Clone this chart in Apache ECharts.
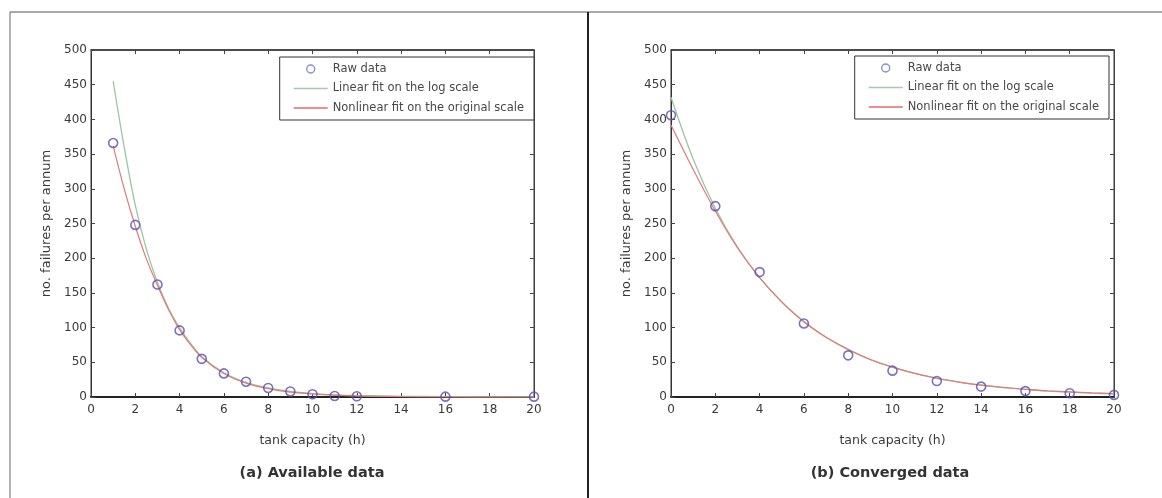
<!DOCTYPE html>
<html>
<head>
<meta charset="utf-8">
<script src="https://cdn.jsdelivr.net/npm/echarts@6/dist/echarts.min.js"></script>
<style>
  html, body { margin: 0; padding: 0; background: #fff; }
  #chart { width: 1162px; height: 498px; }
</style>
</head>
<body>
<div id="chart"></div>
<script>
// ---- Data ----
const seriesNames = ['Raw data', 'Linear fit on the log scale', 'Nonlinear fit on the original scale'];
const xAxisTitle = 'tank capacity (h)';
const yAxisTitle = 'no. failures per annum';
const captions = ['(a) Available data', '(b) Converged data'];

// (a) Available data
const aRawX = [1, 2, 3, 4, 5, 6, 7, 8, 9, 10, 11, 12, 16, 20];
const aRawY = [366, 248, 162, 96, 55, 34, 22, 13, 8, 4, 1.5, 1, 0.5, 0.5];
const aFitX = [1, 1.5, 2, 2.5, 3, 3.5, 4, 4.5, 5, 6, 7, 8, 9, 10, 11, 12, 14, 16, 18, 20];
const aLinFitY = [455, 360, 276, 213, 165, 128, 100, 77, 58, 35, 21, 13, 8, 5, 3, 2, 1, 0.5, 0.3, 0.2];
const aNonFitY = [362, 300, 246, 199, 161, 126, 97, 75, 57, 34, 20, 12, 7, 4.5, 2.7, 1.6, 0.6, 0.2, 0.1, 0];

// (b) Converged data
const bRawX = [0, 2, 4, 6, 8, 10, 12, 14, 16, 18, 20];
const bRawY = [406, 275, 180, 106, 60, 38, 23, 15, 8.5, 5.5, 3];
const bFitX = [0, 1, 2, 3, 4, 5, 6, 7, 8, 9, 10, 11, 12, 13, 14, 15, 16, 17, 18, 19, 20];
const bLinFitY = [432, 343, 272, 216, 172, 137, 109, 86, 69, 54, 43, 34, 27, 21.5, 17, 13.5, 11, 8.5, 7, 5.5, 4.4];
const bNonFitY = [392, 328, 268, 215, 172, 137, 108, 86, 68, 54, 43, 34, 27, 21.5, 17, 14, 11, 9, 7.5, 6, 5];

const xMin = 0, xMax = 20, xStep = 2;
const yMin = 0, yMax = 500, yStep = 50;

// ---- Styling ----
const FONT = '"DejaVu Sans", "Liberation Sans", sans-serif';
const TXT = '#3a3a3a';
const rawColor = '#5a4fb0';
const linColor = '#9cc4a4';
const nonColor = '#de7b7b';

const grids = [
  { left: 91, top: 50, width: 443, height: 347 },
  { left: 671, top: 50, width: 443, height: 347 }
];

function pairs(xs, ys) { return xs.map((x, i) => [x, ys[i]]); }

const xAxes = [], yAxes = [];
grids.forEach((g, gi) => {
  xAxes.push({
    gridIndex: gi, type: 'value', min: xMin, max: xMax, interval: xStep,
    position: 'bottom',
    name: xAxisTitle, nameLocation: 'middle', nameGap: 37,
    nameTextStyle: { fontFamily: FONT, fontSize: 12.5, color: TXT },
    axisLine: { show: true, onZero: false, lineStyle: { color: '#222', width: 2 } },
    axisTick: { show: true, inside: true, length: 4, lineStyle: { color: '#444' } },
    axisLabel: { fontFamily: FONT, fontSize: 12, color: TXT, margin: 7 },
    splitLine: { show: false }
  });
  xAxes.push({
    gridIndex: gi, type: 'value', min: xMin, max: xMax, interval: xStep,
    position: 'top',
    axisLine: { show: true, onZero: false, lineStyle: { color: '#333', width: 1.5 } },
    axisTick: { show: true, inside: true, length: 4, lineStyle: { color: '#444' } },
    axisLabel: { show: false },
    splitLine: { show: false }
  });
  yAxes.push({
    gridIndex: gi, type: 'value', min: yMin, max: yMax, interval: yStep,
    position: 'left',
    name: yAxisTitle, nameLocation: 'middle', nameGap: 38, nameRotate: 90,
    nameTextStyle: { fontFamily: FONT, fontSize: 13, color: TXT },
    axisLine: { show: true, onZero: false, lineStyle: { color: '#333', width: 1 } },
    axisTick: { show: true, inside: true, length: 4, lineStyle: { color: '#444' } },
    axisLabel: { fontFamily: FONT, fontSize: 12, color: TXT, margin: 4 },
    splitLine: { show: false }
  });
  yAxes.push({
    gridIndex: gi, type: 'value', min: yMin, max: yMax, interval: yStep,
    position: 'right',
    axisLine: { show: true, onZero: false, lineStyle: { color: '#444', width: 1 } },
    axisTick: { show: true, inside: true, length: 4, lineStyle: { color: '#444' } },
    axisLabel: { show: false },
    splitLine: { show: false }
  });
});

function makeSeries(gi, rawX, rawY, fitX, linY, nonY) {
  return [
    {
      name: seriesNames[1], type: 'line', xAxisIndex: gi * 2, yAxisIndex: gi * 2,
      data: pairs(fitX, linY), smooth: 0.35, symbol: 'none', z: 2,
      lineStyle: { color: linColor, width: 1.3 }, itemStyle: { color: linColor }
    },
    {
      name: seriesNames[2], type: 'line', xAxisIndex: gi * 2, yAxisIndex: gi * 2,
      data: pairs(fitX, nonY), smooth: 0.35, symbol: 'none', z: 3,
      lineStyle: { color: nonColor, width: 1.2 }, itemStyle: { color: nonColor }
    },
    {
      name: seriesNames[0], type: 'scatter', xAxisIndex: gi * 2, yAxisIndex: gi * 2,
      data: pairs(rawX, rawY), symbol: 'circle', symbolSize: 9, z: 4, clip: false,
      itemStyle: { color: 'rgba(0,0,0,0)', borderColor: rawColor, borderWidth: 1.6 }
    }
  ];
}

const lineIcon = 'path://M0,0 L34,0 L34,1.4 L0,1.4 Z';
const legendBase = {
  orient: 'vertical',
  data: [
    { name: seriesNames[0], icon: 'circle', itemStyle: { color: 'rgba(0,0,0,0)', borderColor: '#6a70c8', borderWidth: 1.4 } },
    { name: seriesNames[1], icon: lineIcon, itemStyle: { color: '#a9c9ae' } },
    { name: seriesNames[2], icon: lineIcon, itemStyle: { color: '#e06a6a' } }
  ],
  itemWidth: 34, itemHeight: 8, itemGap: 7.5,
  padding: [6, 10, 6, 14],
  backgroundColor: '#fff',
  borderColor: '#333', borderWidth: 1, borderRadius: 0,
  textStyle: { fontFamily: FONT, fontSize: 11.5, color: '#484848', padding: [0, 0, 0, 0] },
  selectedMode: false
};

const option = {
  backgroundColor: '#fff',
  animation: false,
  grid: grids.map(g => Object.assign({ show: true, borderColor: '#333', borderWidth: 1, backgroundColor: 'transparent' }, g)),
  xAxis: xAxes,
  yAxis: yAxes,
  legend: [
    Object.assign({}, legendBase, { right: 628, top: 57 }),
    Object.assign({}, legendBase, { right: 53, top: 56 })
  ],
  series: [].concat(
    makeSeries(0, aRawX, aRawY, aFitX, aLinFitY, aNonFitY),
    makeSeries(1, bRawX, bRawY, bFitX, bLinFitY, bNonFitY)
  ),
  graphic: [
    { type: 'line', shape: { x1: 10, y1: 12, x2: 1162, y2: 12 }, style: { stroke: '#555', lineWidth: 1 } },
    { type: 'line', shape: { x1: 10, y1: 12, x2: 10, y2: 498 }, style: { stroke: '#666', lineWidth: 1 } },
    { type: 'line', shape: { x1: 588, y1: 12, x2: 588, y2: 498 }, style: { stroke: '#222', lineWidth: 2 } },
    { type: 'text', x: 312, y: 473, style: { text: captions[0], fontFamily: FONT, fontSize: 14.5, fontWeight: 'bold', fill: '#333', align: 'center', verticalAlign: 'middle' } },
    { type: 'text', x: 890, y: 473, style: { text: captions[1], fontFamily: FONT, fontSize: 14.5, fontWeight: 'bold', fill: '#333', align: 'center', verticalAlign: 'middle' } }
  ]
};

const chart = echarts.init(document.getElementById('chart'), null, { renderer: 'canvas' });
chart.setOption(option);
</script>
</body>
</html>
